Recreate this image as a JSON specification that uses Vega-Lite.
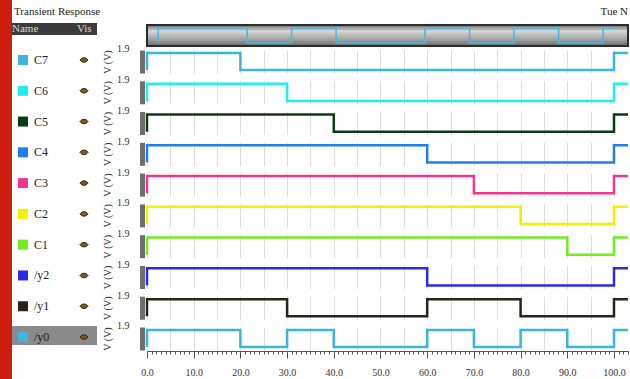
{
  "$schema": "https://vega.github.io/schema/vega-lite/v6.json",
  "padding": 0,
  "background": "white",
  "bounds": "flush",
  "spacing": 4,
  "config": {
    "font": "Liberation Serif",
    "view": {"stroke": null},
    "axis": {"labelFont": "Liberation Serif", "titleFont": "Liberation Serif", "labelColor": "#333", "titleColor": "#333"},
    "axisX": {"labelOverlap": false},
    "legend": {"labelFont": "Liberation Serif", "titleFont": "Liberation Serif"}
  },
  "datasets": {
    "waves": [
      {"signal": "C7", "t": 0, "v": 0}, {"signal": "C7", "t": 0, "v": 1.9}, {"signal": "C7", "t": 20, "v": 0}, {"signal": "C7", "t": 100, "v": 1.9}, {"signal": "C7", "t": 103, "v": 1.9},
      {"signal": "C6", "t": 0, "v": 0}, {"signal": "C6", "t": 0, "v": 1.9}, {"signal": "C6", "t": 30, "v": 0}, {"signal": "C6", "t": 100, "v": 1.9}, {"signal": "C6", "t": 103, "v": 1.9},
      {"signal": "C5", "t": 0, "v": 0}, {"signal": "C5", "t": 0, "v": 1.9}, {"signal": "C5", "t": 40, "v": 0}, {"signal": "C5", "t": 100, "v": 1.9}, {"signal": "C5", "t": 103, "v": 1.9},
      {"signal": "C4", "t": 0, "v": 0}, {"signal": "C4", "t": 0, "v": 1.9}, {"signal": "C4", "t": 60, "v": 0}, {"signal": "C4", "t": 100, "v": 1.9}, {"signal": "C4", "t": 103, "v": 1.9},
      {"signal": "C3", "t": 0, "v": 0}, {"signal": "C3", "t": 0, "v": 1.9}, {"signal": "C3", "t": 70, "v": 0}, {"signal": "C3", "t": 100, "v": 1.9}, {"signal": "C3", "t": 103, "v": 1.9},
      {"signal": "C2", "t": 0, "v": 0}, {"signal": "C2", "t": 0, "v": 1.9}, {"signal": "C2", "t": 80, "v": 0}, {"signal": "C2", "t": 100, "v": 1.9}, {"signal": "C2", "t": 103, "v": 1.9},
      {"signal": "C1", "t": 0, "v": 0}, {"signal": "C1", "t": 0, "v": 1.9}, {"signal": "C1", "t": 90, "v": 0}, {"signal": "C1", "t": 100, "v": 1.9}, {"signal": "C1", "t": 103, "v": 1.9},
      {"signal": "/y2", "t": 0, "v": 0}, {"signal": "/y2", "t": 0, "v": 1.9}, {"signal": "/y2", "t": 60, "v": 0}, {"signal": "/y2", "t": 100, "v": 1.9}, {"signal": "/y2", "t": 103, "v": 1.9},
      {"signal": "/y1", "t": 0, "v": 0}, {"signal": "/y1", "t": 0, "v": 1.9}, {"signal": "/y1", "t": 30, "v": 0}, {"signal": "/y1", "t": 60, "v": 1.9}, {"signal": "/y1", "t": 80, "v": 0}, {"signal": "/y1", "t": 100, "v": 1.9}, {"signal": "/y1", "t": 103, "v": 1.9},
      {"signal": "/y0", "t": 0, "v": 0}, {"signal": "/y0", "t": 0, "v": 1.9}, {"signal": "/y0", "t": 20, "v": 0}, {"signal": "/y0", "t": 30, "v": 1.9}, {"signal": "/y0", "t": 40, "v": 0}, {"signal": "/y0", "t": 60, "v": 1.9}, {"signal": "/y0", "t": 70, "v": 0}, {"signal": "/y0", "t": 80, "v": 1.9}, {"signal": "/y0", "t": 90, "v": 0}, {"signal": "/y0", "t": 100, "v": 1.9}, {"signal": "/y0", "t": 103, "v": 1.9}
    ]
  },
  "vconcat": [
    {
      "data": {"name": "waves"},
      "transform": [{"filter": "datum.signal === '/y0'"}],
      "width": 481,
      "height": 21,
      "title": {"text": "Tue N", "anchor": "end", "fontSize": 11, "font": "Liberation Serif", "fontWeight": "normal", "color": "#222", "offset": 8},
      "view": {
        "fill": {"gradient": "linear", "x1": 0, "y1": 0, "x2": 0, "y2": 1, "stops": [{"offset": 0, "color": "#6e6e6e"}, {"offset": 0.3, "color": "#d6d6d6"}, {"offset": 0.65, "color": "#a8a8a8"}, {"offset": 1, "color": "#6a6a6a"}]},
        "stroke": "#2b2b2b",
        "strokeWidth": 2
      },
      "mark": {"type": "line", "interpolate": "step-after", "color": "#3cc0e0", "strokeWidth": 1.5},
      "encoding": {
        "order": {"value": null},
        "x": {"field": "t", "type": "quantitative", "scale": {"domain": [-2.5, 105.6], "nice": false, "zero": false}, "axis": null},
        "y": {"field": "v", "type": "quantitative", "scale": {"domain": [-0.38, 2.28], "nice": false, "zero": false}, "axis": null}
      }
    },
    {
      "data": {"name": "waves"},
      "bounds": "flush",
      "facet": {
        "row": {"field": "signal", "type": "nominal", "sort": ["C7", "C6", "C5", "C4", "C3", "C2", "C1", "/y2", "/y1", "/y0"], "header": {"labels": false, "title": null}}
      },
      "spacing": {"row": 7.78},
      "spec": {
        "width": 481,
        "height": 23,
        "layer": [
          {
            "mark": {"type": "line", "interpolate": "step-after", "strokeWidth": 2.5},
            "encoding": {
              "order": {"value": null},
              "x": {
                "field": "t", "type": "quantitative",
                "scale": {"domain": [0, 103], "nice": false, "zero": false},
                "axis": {
                  "title": null,
                  "tickCount": 150,
                  "values": [0,1,2,3,4,5,6,7,8,9,10,11,12,13,14,15,16,17,18,19,20,21,22,23,24,25,26,27,28,29,30,31,32,33,34,35,36,37,38,39,40,41,42,43,44,45,46,47,48,49,50,51,52,53,54,55,56,57,58,59,60,61,62,63,64,65,66,67,68,69,70,71,72,73,74,75,76,77,78,79,80,81,82,83,84,85,86,87,88,89,90,91,92,93,94,95,96,97,98,99,100,101,102,103],
                  "labelExpr": "datum.value % 10 === 0 ? format(datum.value, '.1f') : ''",
                  "labelFontSize": 10,
                  "labelFlush": false,
                  "labelOverlap": false,
                  "labelPadding": {"condition": {"test": "datum.value % 10 === 0", "value": 9}, "value": 30},
                  "tickSize": {"condition": {"test": "datum.value % 10 === 0", "value": 7}, "value": 3},
                  "tickColor": "#555",
                  "domainColor": "#555",
                  "grid": true,
                  "gridColor": "#dcdcdc",
                  "gridOpacity": {"condition": {"test": "datum.value % 5 === 0", "value": 1}, "value": 0}
                }
              },
              "y": {
                "field": "v", "type": "quantitative",
                "scale": {"domain": [-0.32, 2.22], "nice": false, "zero": false},
                "axis": {
                  "values": [1.9], "format": ".1f", "ticks": false, "grid": false,
                  "domain": true, "domainColor": "#6e6e6e", "domainWidth": 5, "offset": 5,
                  "labelPadding": 13, "labelFontSize": 10, "labelOffset": -4,
                  "title": "V (V)", "titleFontSize": 10, "titleFontWeight": "normal", "titlePadding": 4
                }
              },
              "color": {
                "field": "signal", "type": "nominal",
                "scale": {
                  "domain": ["C7", "C6", "C5", "C4", "C3", "C2", "C1", "/y2", "/y1", "/y0"],
                  "range": ["#38b6dc", "#20eef0", "#0b3d12", "#1f7ef0", "#f0368f", "#f2f200", "#70ee1e", "#2a2af0", "#2b2418", "#38b6dc"]
                },
                "legend": {
                  "orient": "none", "legendX": -130, "legendY": 29, "zindex": 2,
                  "title": null, "symbolType": "square", "symbolSize": 100, "symbolStrokeWidth": 0,
                  "labelFontSize": 12, "labelColor": "#222", "rowPadding": 18.78, "labelOffset": 5,
                  "encode": {"symbols": {"update": {"fill": {"scale": "color", "field": "value"}, "opacity": {"value": 1}}}}
                }
              }
            }
          },
          {
            "mark": {"type": "point", "opacity": 0, "filled": true},
            "encoding": {
              "x": {"field": "t", "type": "quantitative"},
              "y": {"field": "v", "type": "quantitative"},
              "fill": {
                "field": "v", "type": "quantitative",
                "scale": {"domain": [0, 1.9], "range": ["#cc1f0e", "#cc1f0e"]},
                "legend": {
                  "orient": "none", "legendX": -147, "legendY": -25, "direction": "vertical",
                  "gradientLength": 379, "gradientThickness": 12, "gradientStrokeWidth": 0,
                  "title": null, "values": [1.84], "labelExpr": "'Transient Response'",
                  "labelFontSize": 11, "labelColor": "#222", "labelOffset": 2, "labelBaseline": "middle",
                  "labelAlign": "left", "labelOverlap": false, "labelLimit": 200, "padding": 0
                }
              },
              "stroke": {
                "field": "v", "type": "quantitative",
                "scale": {"domain": [0, 1], "range": ["#3b3b3b", "#3b3b3b"]},
                "legend": {
                  "orient": "none", "legendX": -135, "legendY": -2, "direction": "horizontal",
                  "gradientLength": 85, "gradientThickness": 12, "gradientStrokeWidth": 0,
                  "title": null, "values": [0, 0.85],
                  "labelExpr": "datum.value === 0 ? 'Name' : 'Vis'",
                  "labelColor": "#d8d8d8", "labelFontSize": 11, "labelOffset": -12,
                  "labelOverlap": false, "padding": 0
                }
              },
              "size": {
                "field": "signal", "type": "ordinal",
                "sort": ["C7", "C6", "C5", "C4", "C3", "C2", "C1", "/y2", "/y1", "/y0"],
                "scale": {"range": [64, 64]},
                "legend": {
                  "orient": "none", "legendX": -69, "legendY": 29, "zindex": 2,
                  "title": null,
                  "symbolType": "M -1 0 C -0.5 -0.75 0.5 -0.75 1 0 C 0.5 0.75 -0.5 0.75 -1 0 Z",
                  "symbolFillColor": "#7a5a22", "symbolStrokeColor": "#3a2608", "symbolStrokeWidth": 1, "symbolOpacity": 1,
                  "labelExpr": "' '", "labelFontSize": 12, "rowPadding": 18.78
                }
              },
              "shape": {
                "field": "signal", "type": "nominal",
                "scale": {"domain": ["/y0"], "range": ["M -1 -0.2235 L 1 -0.2235 L 1 0.2235 L -1 0.2235 Z"]},
                "legend": {
                  "orient": "none", "legendX": -135, "legendY": 268, "zindex": 1,
                  "title": null, "symbolSize": 7225, "symbolStrokeWidth": 0,
                  "symbolFillColor": "#8a8a8a", "symbolOpacity": 1, "labelExpr": "''",
                  "encode": {"symbols": {"update": {"opacity": {"value": 1}, "fill": {"value": "#8a8a8a"}, "fillOpacity": {"value": 1}}}}
                }
              }
            }
          }
        ]
      }
    }
  ]
}
